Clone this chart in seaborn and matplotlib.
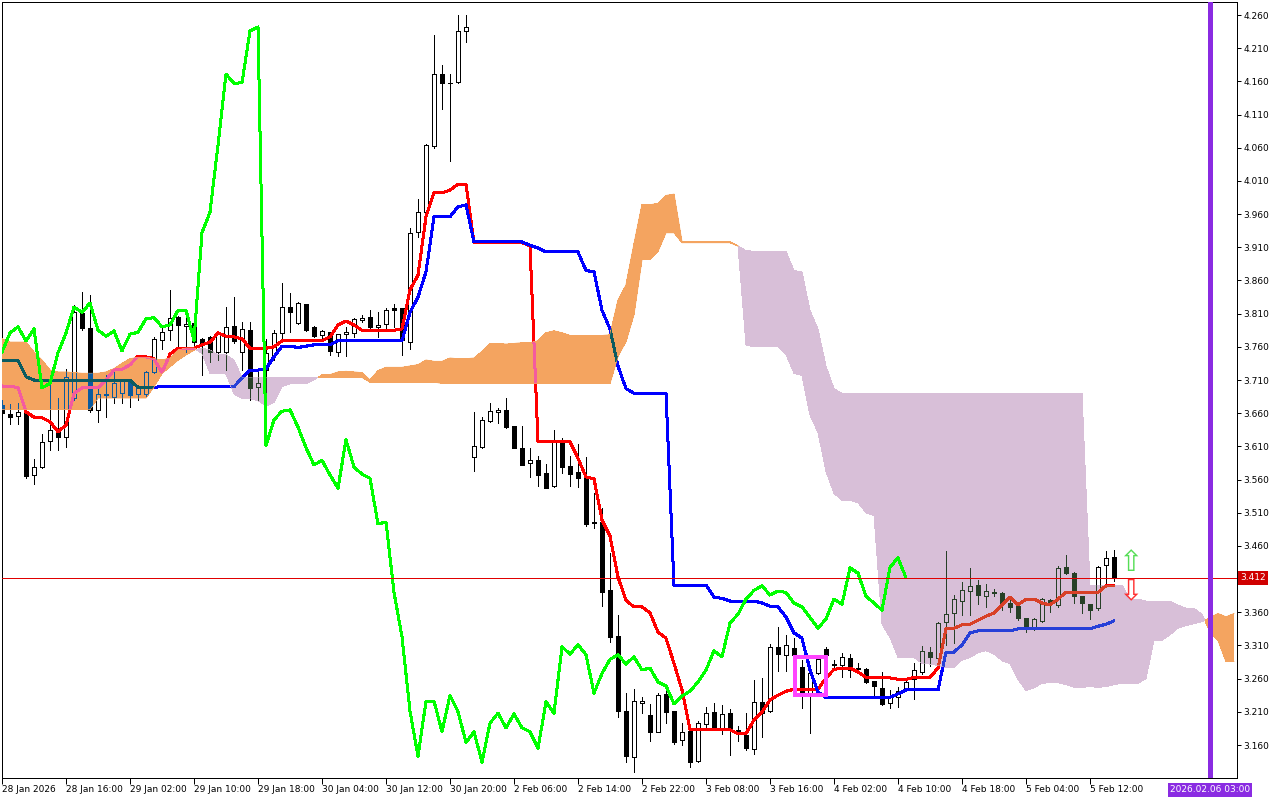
import numpy as np
import matplotlib
matplotlib.use("Agg")
import matplotlib.pyplot as plt
import matplotlib.transforms as mtrans
from matplotlib.path import Path
from matplotlib.patches import Rectangle
import seaborn as sns

# ---- hourly candles (bar 0 = 28 Jan 2026 00:00) ----
opens = [3.672, 3.659, 3.656, 3.662, 3.567, 3.579, 3.618, 3.633, 3.624, 3.683,
         3.811, 3.788, 3.665, 3.688, 3.684, 3.690, 3.707, 3.689, 3.689, 3.722,
         3.770, 3.785, 3.805, 3.792, 3.796, 3.772, 3.775, 3.752, 3.752, 3.791,
         3.752, 3.785, 3.699, 3.725, 3.748, 3.781, 3.820, 3.796, 3.824, 3.790,
         3.778, 3.782, 3.752, 3.780, 3.781, 3.801, 3.805, 3.790, 3.794, 3.818,
         3.818, 3.767, 3.933, 3.963, 4.063, 4.171, 4.158, 4.159, 4.236, 3.594,
         3.609, 3.648, 3.662, 3.665, 3.641, 3.607, 3.585, 3.589, 3.570, 3.550,
         3.620, 3.580, 3.571, 3.564, 3.495, 3.496, 3.394, 3.324, 3.211, 3.142,
         3.224, 3.205, 3.180, 3.237, 3.211, 3.167, 3.181, 3.136, 3.191, 3.210,
         3.186, 3.208, 3.182, 3.175, 3.154, 3.225, 3.211, 3.308, 3.296, 3.306,
         3.277, 3.238, 3.268, 3.305, 3.281, 3.281, 3.291, 3.275, 3.274, 3.256,
         3.246, 3.223, 3.233, 3.243, 3.259, 3.270, 3.300, 3.291, 3.345, 3.359,
         3.377, 3.392, 3.401, 3.384, 3.389, 3.389, 3.374, 3.369, 3.351, 3.338,
         3.347, 3.378, 3.371, 3.428, 3.419, 3.384, 3.372, 3.366, 3.431, 3.443]
highs = [3.680, 3.674, 3.675, 3.664, 3.591, 3.629, 3.717, 3.683, 3.727, 3.823,
         3.843, 3.838, 3.698, 3.717, 3.725, 3.712, 3.712, 3.702, 3.724, 3.775,
         3.790, 3.846, 3.806, 3.811, 3.800, 3.773, 3.776, 3.784, 3.820, 3.835,
         3.797, 3.797, 3.727, 3.772, 3.785, 3.856, 3.841, 3.827, 3.825, 3.791,
         3.785, 3.783, 3.780, 3.790, 3.803, 3.808, 3.815, 3.812, 3.818, 3.825,
         3.819, 3.939, 3.983, 4.065, 4.230, 4.185, 4.171, 4.260, 4.260, 3.662,
         3.654, 3.675, 3.668, 3.683, 3.641, 3.641, 3.607, 3.595, 3.584, 3.635,
         3.623, 3.595, 3.613, 3.594, 3.540, 3.517, 3.449, 3.356, 3.238, 3.244,
         3.232, 3.222, 3.238, 3.243, 3.212, 3.193, 3.182, 3.196, 3.217, 3.223,
         3.221, 3.214, 3.188, 3.208, 3.258, 3.261, 3.312, 3.338, 3.326, 3.321,
         3.288, 3.270, 3.295, 3.308, 3.288, 3.299, 3.297, 3.283, 3.276, 3.257,
         3.270, 3.243, 3.248, 3.257, 3.283, 3.309, 3.307, 3.345, 3.452, 3.386,
         3.406, 3.427, 3.409, 3.402, 3.395, 3.390, 3.380, 3.370, 3.352, 3.352,
         3.382, 3.380, 3.430, 3.446, 3.420, 3.385, 3.373, 3.430, 3.452, 3.454]
lows = [3.650, 3.644, 3.644, 3.562, 3.553, 3.578, 3.604, 3.604, 3.609, 3.680,
        3.785, 3.662, 3.647, 3.654, 3.675, 3.675, 3.670, 3.680, 3.686, 3.720,
        3.757, 3.770, 3.757, 3.752, 3.763, 3.717, 3.737, 3.740, 3.725, 3.766,
        3.725, 3.680, 3.680, 3.690, 3.740, 3.770, 3.782, 3.795, 3.784, 3.775,
        3.770, 3.747, 3.746, 3.746, 3.775, 3.797, 3.789, 3.775, 3.785, 3.790,
        3.748, 3.757, 3.925, 3.961, 4.060, 4.118, 4.040, 4.158, 4.219, 3.573,
        3.608, 3.647, 3.645, 3.638, 3.607, 3.582, 3.564, 3.551, 3.547, 3.549,
        3.570, 3.550, 3.549, 3.490, 3.487, 3.369, 3.315, 3.202, 3.134, 3.119,
        3.208, 3.166, 3.179, 3.193, 3.162, 3.160, 3.127, 3.135, 3.185, 3.185,
        3.177, 3.145, 3.166, 3.152, 3.147, 3.172, 3.210, 3.272, 3.272, 3.290,
        3.216, 3.178, 3.267, 3.294, 3.273, 3.262, 3.262, 3.268, 3.254, 3.234,
        3.220, 3.216, 3.218, 3.242, 3.230, 3.267, 3.279, 3.289, 3.310, 3.314,
        3.356, 3.356, 3.372, 3.368, 3.385, 3.363, 3.360, 3.348, 3.330, 3.333,
        3.345, 3.361, 3.368, 3.418, 3.374, 3.359, 3.350, 3.363, 3.404, 3.407]
closes = [3.660, 3.654, 3.662, 3.565, 3.579, 3.617, 3.635, 3.624, 3.714, 3.812,
          3.788, 3.665, 3.689, 3.689, 3.705, 3.708, 3.687, 3.698, 3.722, 3.772,
          3.782, 3.803, 3.793, 3.795, 3.768, 3.763, 3.752, 3.781, 3.790, 3.769,
          3.787, 3.698, 3.705, 3.751, 3.781, 3.820, 3.812, 3.826, 3.785, 3.776,
          3.784, 3.754, 3.779, 3.782, 3.802, 3.804, 3.790, 3.793, 3.815, 3.815,
          3.770, 3.932, 3.963, 4.064, 4.171, 4.157, 4.158, 4.236, 4.242, 3.611,
          3.650, 3.663, 3.665, 3.639, 3.608, 3.582, 3.589, 3.567, 3.547, 3.620,
          3.579, 3.568, 3.562, 3.493, 3.496, 3.390, 3.323, 3.211, 3.143, 3.226,
          3.226, 3.180, 3.235, 3.210, 3.164, 3.180, 3.134, 3.193, 3.208, 3.186,
          3.207, 3.186, 3.180, 3.155, 3.225, 3.208, 3.308, 3.297, 3.311, 3.296,
          3.238, 3.268, 3.289, 3.296, 3.282, 3.293, 3.273, 3.276, 3.255, 3.249,
          3.222, 3.234, 3.241, 3.255, 3.273, 3.302, 3.293, 3.344, 3.357, 3.380,
          3.393, 3.400, 3.386, 3.392, 3.390, 3.374, 3.368, 3.352, 3.336, 3.350,
          3.380, 3.372, 3.427, 3.419, 3.384, 3.374, 3.363, 3.428, 3.442, 3.412]

# ---- Ichimoku lines ----
tenkan = [3.701, 3.700, 3.699, 3.662, 3.654, 3.653, 3.647, 3.632, 3.642, 3.690,
          3.698, 3.698, 3.698, 3.710, 3.725, 3.726, 3.733, 3.746, 3.745, 3.742,
          3.721, 3.749, 3.758, 3.758, 3.758, 3.763, 3.767, 3.781, 3.776, 3.775,
          3.772, 3.758, 3.758, 3.758, 3.760, 3.769, 3.769, 3.769, 3.769, 3.769,
          3.769, 3.775, 3.793, 3.799, 3.793, 3.785, 3.785, 3.785, 3.785, 3.785,
          3.787, 3.846, 3.868, 3.956, 3.992, 3.992, 3.996, 4.005, 4.005, 3.917,
          3.917, 3.917, 3.917, 3.917, 3.917, 3.917, 3.912, 3.617, 3.617, 3.617,
          3.617, 3.617, 3.592, 3.564, 3.561, 3.499, 3.475, 3.413, 3.378, 3.368,
          3.368, 3.359, 3.330, 3.321, 3.283, 3.243, 3.183, 3.183, 3.183, 3.183,
          3.183, 3.183, 3.177, 3.177, 3.198, 3.210, 3.228, 3.235, 3.241, 3.244,
          3.244, 3.244, 3.244, 3.261, 3.274, 3.276, 3.276, 3.270, 3.262, 3.261,
          3.262, 3.261, 3.259, 3.259, 3.262, 3.262, 3.262, 3.276, 3.335, 3.336,
          3.341, 3.342, 3.348, 3.354, 3.359, 3.371, 3.383, 3.371, 3.380, 3.380,
          3.374, 3.371, 3.380, 3.390, 3.390, 3.390, 3.390, 3.390, 3.400, 3.400]
kijun = [3.739, 3.739, 3.739, 3.715, 3.710, 3.710, 3.710, 3.710, 3.710, 3.710,
         3.710, 3.710, 3.710, 3.710, 3.710, 3.710, 3.710, 3.699, 3.699, 3.699,
         3.700, 3.700, 3.700, 3.700, 3.700, 3.700, 3.700, 3.700, 3.700, 3.700,
         3.713, 3.725, 3.725, 3.727, 3.745, 3.761, 3.761, 3.759, 3.761, 3.763,
         3.763, 3.763, 3.769, 3.769, 3.769, 3.769, 3.769, 3.769, 3.769, 3.769,
         3.769, 3.812, 3.835, 3.873, 3.956, 3.956, 3.956, 3.971, 3.974, 3.918,
         3.918, 3.918, 3.918, 3.918, 3.918, 3.918, 3.913, 3.909, 3.903, 3.903,
         3.903, 3.903, 3.903, 3.875, 3.873, 3.815, 3.787, 3.731, 3.697, 3.690,
         3.690, 3.690, 3.690, 3.690, 3.401, 3.401, 3.401, 3.401, 3.401, 3.383,
         3.381, 3.377, 3.377, 3.377, 3.377, 3.374, 3.369, 3.368, 3.353, 3.329,
         3.321, 3.273, 3.240, 3.231, 3.232, 3.232, 3.232, 3.232, 3.232, 3.232,
         3.232, 3.232, 3.237, 3.243, 3.243, 3.243, 3.243, 3.243, 3.300, 3.300,
         3.311, 3.329, 3.332, 3.332, 3.332, 3.332, 3.332, 3.335, 3.335, 3.335,
         3.335, 3.335, 3.335, 3.335, 3.335, 3.335, 3.335, 3.339, 3.342, 3.347]
# cloud spans, already shifted 26 bars forward (bar 0 .. 154)
span_a = [3.772, 3.767, 3.767, 3.767, 3.752, 3.740, 3.725, 3.722, 3.722, 3.721,
          3.720, 3.720, 3.720, 3.722, 3.727, 3.735, 3.742, 3.744, 3.744, 3.742,
          3.740, 3.743, 3.755, 3.758, 3.758, 3.750, 3.720, 3.720, 3.719, 3.689,
          3.682, 3.682, 3.679, 3.671, 3.676, 3.700, 3.704, 3.704, 3.704, 3.710,
          3.718, 3.718, 3.722, 3.723, 3.722, 3.721, 3.710, 3.724, 3.729, 3.729,
          3.729, 3.731, 3.733, 3.740, 3.738, 3.738, 3.743, 3.742, 3.742, 3.743,
          3.753, 3.765, 3.765, 3.764, 3.765, 3.766, 3.766, 3.769, 3.781, 3.784,
          3.781, 3.777, 3.777, 3.777, 3.777, 3.777, 3.778, 3.830, 3.853, 3.915,
          3.974, 3.974, 3.976, 3.988, 3.990, 3.918, 3.918, 3.918, 3.918, 3.918,
          3.918, 3.918, 3.912, 3.763, 3.760, 3.760, 3.760, 3.760, 3.748, 3.720,
          3.717, 3.657, 3.631, 3.572, 3.539, 3.529, 3.529, 3.525, 3.510, 3.506,
          3.342, 3.322, 3.292, 3.292, 3.292, 3.283, 3.282, 3.280, 3.277, 3.277,
          3.288, 3.292, 3.299, 3.302, 3.297, 3.287, 3.283, 3.259, 3.242, 3.246,
          3.253, 3.254, 3.254, 3.251, 3.247, 3.247, 3.248, 3.247, 3.248, 3.251,
          3.253, 3.253, 3.253, 3.260, 3.318, 3.318, 3.326, 3.336, 3.340, 3.343,
          3.346, 3.352, 3.358, 3.353, 3.358]
span_b = [3.666, 3.666, 3.666, 3.666, 3.666, 3.666, 3.666, 3.666, 3.666, 3.666,
          3.666, 3.666, 3.683, 3.683, 3.683, 3.683, 3.683, 3.683, 3.683, 3.700,
          3.720, 3.730, 3.740, 3.748, 3.755, 3.758, 3.755, 3.748, 3.748, 3.740,
          3.714, 3.714, 3.714, 3.714, 3.714, 3.714, 3.714, 3.714, 3.714, 3.714,
          3.714, 3.714, 3.714, 3.714, 3.714, 3.714, 3.707, 3.707, 3.707, 3.707,
          3.707, 3.707, 3.707, 3.707, 3.707, 3.705, 3.705, 3.705, 3.705, 3.705,
          3.705, 3.705, 3.705, 3.705, 3.705, 3.705, 3.705, 3.705, 3.705, 3.705,
          3.705, 3.705, 3.705, 3.705, 3.705, 3.705, 3.705, 3.746, 3.768, 3.809,
          3.892, 3.892, 3.904, 3.932, 3.932, 3.917, 3.917, 3.917, 3.917, 3.917,
          3.917, 3.917, 3.912, 3.905, 3.904, 3.904, 3.904, 3.904, 3.904, 3.875,
          3.873, 3.815, 3.787, 3.731, 3.697, 3.690, 3.690, 3.690, 3.690, 3.690,
          3.690, 3.690, 3.690, 3.690, 3.690, 3.690, 3.690, 3.690, 3.690, 3.690,
          3.690, 3.690, 3.690, 3.690, 3.690, 3.690, 3.690, 3.690, 3.690, 3.690,
          3.690, 3.690, 3.690, 3.690, 3.690, 3.690, 3.401, 3.401, 3.401, 3.401,
          3.401, 3.380, 3.380, 3.377, 3.377, 3.377, 3.377, 3.371, 3.366, 3.366,
          3.357, 3.330, 3.318, 3.286, 3.286]
chikou_shift = 26

time_labels = ["28 Jan 2026", "28 Jan 16:00", "29 Jan 02:00", "29 Jan 10:00",
               "29 Jan 18:00", "30 Jan 04:00", "30 Jan 12:00", "30 Jan 20:00",
               "2 Feb 06:00", "2 Feb 14:00", "2 Feb 22:00", "3 Feb 08:00",
               "3 Feb 16:00", "4 Feb 02:00", "4 Feb 10:00", "4 Feb 18:00",
               "5 Feb 04:00", "5 Feb 12:00"]
bars_per_label = 8
price_ticks = [3.160, 3.210, 3.260, 3.310, 3.360, 3.410, 3.460, 3.510, 3.560,
               3.610, 3.660, 3.710, 3.760, 3.810, 3.860, 3.910, 3.960, 4.010,
               4.060, 4.110, 4.160, 4.210, 4.260]
last_price = 3.412
marker_bar = 151
marker_label = "2026.02.06 03:00"
signal_bar = 141

sns.set_style("white")
plt.rcParams['font.family'] = ['DejaVu Sans']

PX = 0.72  # one screen pixel in points at dpi 100
ORANGE, THISTLE = '#f4a460', '#d8bfd8'

fig = plt.figure(figsize=(12.8, 8), dpi=100)
ax = fig.add_axes([2 / 1280, 22 / 800, 1235 / 1280, 776 / 800])

idx = np.arange(len(closes))


def draw_candles(face_up, ink, z):
    o = np.asarray(opens)
    c = np.asarray(closes)
    bot = np.minimum(o, c)
    top = np.maximum(o, c)
    arts = [ax.vlines(idx, lows, bot, colors=ink, lw=PX, zorder=z, antialiased=False),
            ax.vlines(idx, top, highs, colors=ink, lw=PX, zorder=z, antialiased=False)]
    faces = [face_up if cc >= oo else ink for oo, cc in zip(o, c)]
    bars = ax.bar(idx, top - bot, bottom=bot, width=0.5, color=faces,
                  edgecolor=ink, linewidth=PX, zorder=z, antialiased=False)
    return arts + list(bars.patches)


# plain candles and Tenkan / Kijun (underneath the cloud)
draw_candles('white', 'black', 2)
sns.lineplot(x=idx, y=tenkan, color='#ff0000', lw=2 * PX, zorder=3, ax=ax,
             estimator=None, sort=False, antialiased=False)
sns.lineplot(x=idx, y=kijun, color='#0000ff', lw=2 * PX, zorder=3, ax=ax,
             estimator=None, sort=False, antialiased=False)

# cloud
jj = np.arange(len(span_a))
a = np.asarray(span_a)
b = np.asarray(span_b)
bull_cloud = ax.fill_between(jj, a, b, where=a >= b, interpolate=True,
                             color=ORANGE, lw=0, zorder=5, antialiased=False)
bear_cloud = ax.fill_between(jj, a, b, where=a < b, interpolate=True,
                             color=THISTLE, lw=0, zorder=5, antialiased=False)
ax.plot(jj, np.where(a >= b, a, np.nan), color=ORANGE, lw=PX, zorder=5)
ax.plot(jj, np.where(a >= b, b, np.nan), color=ORANGE, lw=PX, zorder=5)

# what lies under the cloud shows through in inverted colours (as in MT4)
for cloud, face, ink, red2, blue2 in [
        (bull_cloud, ORANGE, '#0b5b9f', '#f45b9f', '#0b5b60'),
        (bear_cloud, THISTLE, '#274027', '#d84027', '#2740d8')]:
    clip = Path.make_compound_path(*cloud.get_paths())
    arts = draw_candles(face, ink, 6)
    arts.append(ax.plot(idx, tenkan, color=red2, lw=2 * PX, zorder=7, antialiased=False)[0])
    arts.append(ax.plot(idx, kijun, color=blue2, lw=2 * PX, zorder=7, antialiased=False)[0])
    for art in arts:
        art.set_clip_path(clip, ax.transData)

# Chikou span = close drawn 26 bars back
sns.lineplot(x=idx[:-chikou_shift], y=closes[chikou_shift:], color='#00ff00',
             lw=2 * PX, zorder=8, ax=ax, estimator=None, sort=False, antialiased=False)

# price line, time marker, box and arrows
ax.axhline(last_price, color='#e00000', lw=PX, zorder=9)
ax.axvline(marker_bar, color='#8a2be2', lw=5 * PX, zorder=10)
ax.add_patch(Rectangle((99.09, 3.2357), 3.95, 0.0569, fill=False,
                       edgecolor='#ff44ff', lw=4 * PX, zorder=10))
ax.text(signal_bar, 3.435, '\u21e7', color='#55dd55', fontsize=21,
        ha='center', va='center', zorder=11)
ax.text(signal_bar, 3.391, '\u21e9', color='#ff3030', fontsize=21,
        ha='center', va='center', zorder=11)

# axes
ax.set_xlim(0, 154.375)
ax.set_ylim(3.1103, 4.2796)
ax.set_xlabel('')
ax.set_ylabel('')
ax.set_xticks(np.arange(len(time_labels)) * bars_per_label)
ax.set_xticklabels(time_labels, ha='left')
ax.yaxis.tick_right()
ax.set_yticks(price_ticks)
ax.set_yticklabels(["" if abs(p - 3.41) < 1e-6 else f"{p:.3f}" for p in price_ticks])
ax.tick_params(axis='x', bottom=True, length=4, width=PX, color='black',
               direction='out', pad=1, labelsize=6.5, labelcolor='black')
ax.tick_params(axis='y', right=True, left=False, length=3, width=PX, color='black',
               direction='out', pad=1.5, labelsize=6.5, labelcolor='black')
for sp in ax.spines.values():
    sp.set_color('black')
    sp.set_linewidth(PX)
ax.grid(False)

ytrans = mtrans.blended_transform_factory(ax.transAxes, ax.transData)
ax.text(1.0 + 3 / 1235, last_price, f"{last_price:.3f}", transform=ytrans,
        ha='left', va='center', fontsize=6.5, color='white', zorder=20, clip_on=False,
        bbox=dict(boxstyle='square,pad=0.25', fc='#d00000', ec='none'))
xtrans = mtrans.blended_transform_factory(ax.transData, ax.transAxes)
ax.text(marker_bar, -12 / 776, marker_label, transform=xtrans, ha='center',
        va='center', fontsize=6.5, color='white', zorder=20, clip_on=False,
        bbox=dict(boxstyle='square,pad=0.25', fc='#8a2be2', ec='none'))

fig.savefig('out.png', dpi=100)
